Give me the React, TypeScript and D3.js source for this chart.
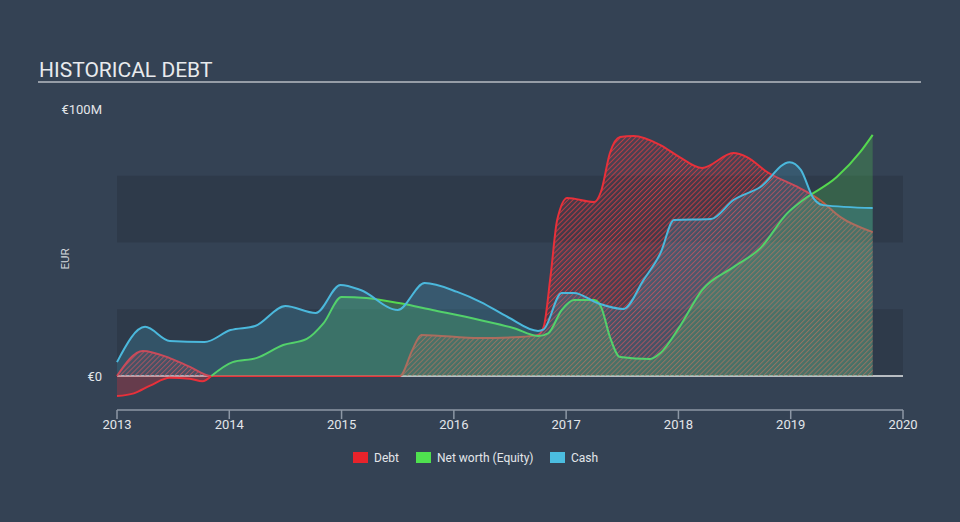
import React from "react";
import * as d3 from "d3";

const years = ["2013", "2014", "2015", "2016", "2017", "2018", "2019", "2020"];

const debtDates = [2013.0, 2013.23, 2013.47, 2013.65, 2013.84, 2015.52, 2015.63, 2015.71, 2016.23, 2016.59, 2016.75, 2016.8, 2016.86, 2016.92, 2017.01, 2017.25, 2017.31, 2017.39, 2017.48, 2017.6, 2017.84, 2018.01, 2018.21, 2018.49, 2018.61, 2018.79, 2019.08, 2019.26, 2019.44, 2019.73];
const debtValues = [0, 9.4, 6.7, 3.4, 0, 0, 9.7, 15.4, 14.2, 14.6, 15.4, 18.4, 37, 58.4, 66.7, 65.2, 69, 83.5, 89.5, 89.9, 86.5, 82, 77.9, 83.5, 82, 76.4, 70.4, 65.9, 59.6, 53.9];

const debtLowDates = [2013.0, 2013.15, 2013.3, 2013.47, 2013.65, 2013.76, 2013.84];
const debtLowValues = [-7.5, -6.5, -3.5, -0.7, -1.0, -2.0, 0];

const equityDates = [2013.84, 2014.03, 2014.24, 2014.48, 2014.69, 2014.84, 2015.0, 2015.22, 2015.51, 2015.81, 2016.23, 2016.53, 2016.75, 2016.84, 2016.96, 2017.07, 2017.25, 2017.31, 2017.39, 2017.48, 2017.75, 2017.84, 2018.01, 2018.21, 2018.49, 2018.73, 2018.97, 2019.11, 2019.41, 2019.62, 2019.73];
const equityValues = [0, 5.2, 6.7, 11.6, 13.9, 19.8, 29.6, 29.2, 27.3, 24.7, 21, 18, 15, 16, 24.7, 28.5, 28.5, 26, 14.6, 7.1, 6.4, 8.6, 18.4, 32.2, 40.8, 47.9, 61, 65.9, 74.5, 83.9, 90.3];

const cashDates = [2013.0, 2013.25, 2013.47, 2013.78, 2014.01, 2014.23, 2014.5, 2014.77, 2014.99, 2015.17, 2015.5, 2015.74, 2016.03, 2016.24, 2016.48, 2016.75, 2016.8, 2016.96, 2017.07, 2017.28, 2017.51, 2017.69, 2017.84, 2017.96, 2018.29, 2018.49, 2018.73, 2018.99, 2019.09, 2019.2, 2019.29, 2019.73];
const cashValues = [5.2, 18.4, 13.1, 12.7, 17.2, 18.7, 26.2, 23.6, 34.1, 32.2, 24.7, 34.8, 31.5, 27.7, 22.1, 16.9, 17.5, 31.1, 31.1, 27.3, 25.1, 36, 46, 58.4, 58.8, 65.9, 70.8, 80.1, 77.2, 66.7, 64, 62.9];

const yTickLabels = ["€0", "€100M"];
const yTickValues = [0, 100];
const bandValues = [0, 25, 50, 75];

const legendLabels = ["Debt", "Net worth (Equity)", "Cash"];

const BG = "#344254";
const BAND = "#2e3a4a";
const RED = "#e8303a";
const GREEN = "#55d84f";
const BLUE = "#4bb8dc";

type P = [number, number];
const zip = (d: number[], v: number[]): P[] => d.map((x, i) => [x, v[i]]);

export default function App() {
  const W = 960, H = 522;
  const x = d3.scaleLinear().domain([2013, 2020]).range([117, 903]);
  const y = d3.scaleLinear().domain([0, 100]).range([376, 109]);

  const debt = zip(debtDates, debtValues);
  const debtLow = zip(debtLowDates, debtLowValues);
  const equity = zip(equityDates, equityValues);
  const cash = zip(cashDates, cashValues);

  const curve = d3.curveMonotoneX;
  const line = d3.line<P>().x(d => x(d[0])).y(d => y(d[1])).curve(curve);
  const area = d3.area<P>().x(d => x(d[0])).y0(y(0)).y1(d => y(d[1])).curve(curve);

  const font = "Roboto, 'Open Sans', sans-serif";

  const legendItems = [
    { label: legendLabels[0], color: "#e8232b", sx: 353, tx: 374 },
    { label: legendLabels[1], color: "#4fe04f", sx: 416, tx: 437 },
    { label: legendLabels[2], color: "#4bbde0", sx: 550, tx: 571 },
  ];

  return (
    <svg width={W} height={H} style={{ position: "absolute", left: 0, top: 0, display: "block" }} fontFamily={font}>
      <defs>
        <pattern id="hatch" patternUnits="userSpaceOnUse" width={3.5} height={3.5} patternTransform="rotate(45)">
          <rect width={3.5} height={3.5} fill="rgba(232,48,58,0.12)" />
          <line x1={0} y1={0} x2={0} y2={3.5} stroke="rgba(232,60,66,0.75)" strokeWidth={2} />
        </pattern>
      </defs>
      <rect width={W} height={H} fill={BG} />
      <text x={39} y={77} fill="#e8eaed" fontSize={21}>HISTORICAL DEBT</text>
      <line x1={38} x2={921} y1={82} y2={82} stroke="#b7bcc3" strokeWidth={1.5} />

      {bandValues.map((b, i) => (
        i % 2 === 0 ? (
          <rect key={b} x={x(2013)} width={x(2020) - x(2013)} y={y(b + 25)} height={y(b) - y(b + 25)} fill={BAND} />
        ) : null
      ))}

      {yTickValues.map((v, i) => (
        <text key={v} x={102} y={y(v)} dy="0.35em" textAnchor="end" fill="#e3e6ea" fontSize={13}>{yTickLabels[i]}</text>
      ))}
      <text transform={`translate(69,259) rotate(-90)`} textAnchor="middle" fill="#d4d8dd" fontSize={11.5}>EUR</text>

      <line x1={x(2013)} x2={x(2020)} y1={y(0)} y2={y(0)} stroke="#e6e8ea" strokeWidth={1.5} />

      <path d={area(debt) || ""} fill="url(#hatch)" />
      <path d={area(debtLow) || ""} fill="rgba(232,48,58,0.28)" />
      <path d={line(debt) || ""} fill="none" stroke={RED} strokeWidth={2} />
      <path d={line(debtLow) || ""} fill="none" stroke={RED} strokeWidth={2} />

      <path d={area(equity) || ""} fill="rgba(85,216,79,0.25)" />
      <path d={line(equity) || ""} fill="none" stroke={GREEN} strokeWidth={2} />

      <path d={area(cash) || ""} fill="rgba(75,184,220,0.2)" />
      <path d={line(cash) || ""} fill="none" stroke={BLUE} strokeWidth={2} />

      <line x1={x(2013)} x2={x(2020)} y1={410} y2={410} stroke="#8c97a5" strokeWidth={1.5} />
      {years.map(yr => (
        <g key={yr} transform={`translate(${x(+yr)},0)`}>
          <line y1={410} y2={419} stroke="#8c97a5" strokeWidth={1.5} />
          <text y={424} dy="0.35em" textAnchor="middle" fill="#e3e6ea" fontSize={13}>{yr}</text>
        </g>
      ))}

      {legendItems.map(it => (
        <g key={it.label}>
          <rect x={it.sx} y={452} width={15} height={11} fill={it.color} />
          <text x={it.tx} y={457.5} dy="0.35em" fill="#e3e6ea" fontSize={12}>{it.label}</text>
        </g>
      ))}
    </svg>
  );
}
